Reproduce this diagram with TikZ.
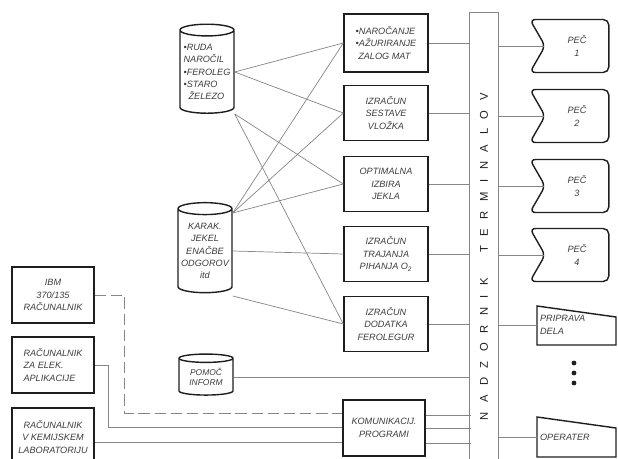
\documentclass[tikz,border=0pt]{standalone}
\usepackage{fontspec}
\setsansfont{Liberation Sans}
\usepackage{tikz}
\usetikzlibrary{shapes.geometric, shapes.symbols, positioning, calc}
\definecolor{inkcol}{HTML}{1E1E1E}
\definecolor{wirecol}{HTML}{858585}
\definecolor{textcol}{HTML}{3C3C3C}

\begin{document}
\begin{tikzpicture}[
    x=0.025cm, y=-0.025cm,
    every node/.style={font=\sffamily\itshape\fontsize{6.5}{8.8}\selectfont, text=textcol},
    prog/.style={rectangle, draw=inkcol, line width=1pt, minimum width=2.1cm,
                 minimum height=1.375cm, align=center, inner sep=1pt},
    comp/.style={prog, minimum width=2.05cm, minimum height=1.4cm},
    store/.style={cylinder, shape border rotate=90, aspect=0.25, draw=inkcol, line width=1pt,
                  minimum width=1.35cm, align=center, inner sep=0pt},
    pec/.style={signal, signal to=nowhere, signal from=west, signal pointer angle=120,
                draw=inkcol, line width=1pt, rounded corners=4pt, minimum width=1.975cm,
                minimum height=1.325cm, align=center, inner sep=1pt},
    inbox/.style={draw=inkcol, line width=1pt},
    strip/.style={rectangle, minimum width=0.7cm, minimum height=11.15cm, inner sep=0pt},
    wire/.style={draw=wirecol, line width=0.5pt},
    dwire/.style={wire, dash pattern=on 8pt off 3.5pt},
]
\useasboundingbox (0,0) rectangle (618,459);

% data stores
\node[store, minimum height=2.225cm, align=left] (ruda) at (207,72)
    {•RUDA\\NAROČIL\\•FEROLEG\\•STARO\\\ \ ŽELEZO};
\node[store, minimum height=2.25cm] (karak) at (205,251)
    {KARAK.\\JEKEL\\ENAČBE\\ODGOROV\\itd};
\node[store, minimum height=1.025cm, font=\sffamily\itshape\fontsize{6}{7}\selectfont] (pomoc) at (206,377)
    {POMOČ\\INFORM};

% programs
\node[prog, minimum height=1.45cm, align=left] (narocanje) at (386,43)
    {•NAROČANJE\\•AŽURIRANJE\\\ ZALOG MAT};
\node[prog] (vlozek) at (386,113) {IZRAČUN\\SESTAVE\\VLOŽKA};
\node[prog] (optimal) at (386,184) {OPTIMALNA\\IZBIRA\\JEKLA};
\node[prog] (pihanje) at (386,254) {IZRAČUN\\TRAJANJA\\PIHANJA O\textsubscript{2}};
\node[prog] (ferolegure) at (386,324) {IZRAČUN\\DODATKA\\FEROLEGUR};
\node[comp] (komunik) at (384,428) {KOMUNIKACIJ.\\PROGRAMI};

% computers
\node[comp] (ibm) at (53,295) {IBM\\370/135\\RAČUNALNIK};
\node[comp, align=left] (elek) at (53,365) {RAČUNALNIK\\ZA ELEK.\\APLIKACIJE};
\node[comp, minimum height=1.45cm] (kemlab) at (53,437) {RAČUNALNIK\\V KEMIJSKEM\\LABORATORIJU};

% terminal supervisor
\node[strip] (nadzor) at (484,236) {};
\draw[wire] (nadzor.south west) |- (nadzor.north east) -- (nadzor.south east);
\node[rotate=90, text=inkcol, font=\sffamily\fontsize{8}{8}\selectfont\addfontfeature{LetterSpace=85}]
    (nadzortxt) at (484,257) {NADZORNIK\ \ TERMINALOV};

% furnaces and terminals
\node[pec] (pec1) at (577,46) {PEČ\\1};
\node[pec] (pec2) at (577,116) {PEČ\\2};
\node[pec] (pec3) at (577,186) {PEČ\\3};
\node[pec] (pec4) at (577,255) {PEČ\\4};
\draw[inbox] (537,306) -- (616,317) -- (616,345) -- (537,345) -- cycle;
\node[anchor=west, align=left, inner sep=2pt] (priprava) at (537,325) {PRIPRAVA\\DELA};
\draw[inbox] (537,417) -- (616,428) -- (616,457) -- (537,457) -- cycle;
\node[anchor=west, inner sep=2pt] (operater) at (537,437) {OPERATER};
\foreach \y in {363,373,383}
    \fill[inkcol] (574,\y) circle (1.7pt);

% stores to programs
\draw[wire] (ruda.east) -- (narocanje.west);
\draw[wire] (ruda.east) -- (vlozek.west);
\draw[wire] ($(ruda.east)+(0,42)$) -- (optimal.west);
\draw[wire] ($(ruda.east)+(0,42)$) -- (ferolegure.west);
\draw[wire] ($(karak.east)+(0,-38)$) -- (narocanje.west);
\draw[wire] ($(karak.east)+(0,-38)$) -- (vlozek.west);
\draw[wire] ($(karak.east)+(0,-38)$) -- (optimal.west);
\draw[wire] (karak.east) -- (pihanje.west);
\draw[wire] ($(karak.east)+(0,45)$) -- (ferolegure.west);
\draw[wire] (pomoc.east) -- (pomoc.east -| nadzor.west);

% programs to supervisor
\draw[wire] (narocanje.east) -- (narocanje.east -| nadzor.west);
\draw[wire] (vlozek.east) -- (vlozek.east -| nadzor.west);
\draw[wire] (optimal.east) -- (optimal.east -| nadzor.west);
\draw[wire] (pihanje.east) -- (pihanje.east -| nadzor.west);
\draw[wire] (ferolegure.east) -- (ferolegure.east -| nadzor.west);
\foreach \dy in {-13,0,15}
    \draw[wire] ($(komunik.east)+(0,\dy)$) -- ++(45,0);

% computers to communication
\draw[dwire] (ibm.east) -- ++(30,0) |- ($(komunik.west)+(0,-15)$);
\draw[wire] (elek.east) -- ++(14,0) |- ($(komunik.west)+(0,-1)$);
\draw[wire] ($(kemlab.east)+(0,5)$) -- ($(komunik.west)+(0,14)$);

% supervisor to terminals
\draw[wire] (nadzor.east |- pec1.west) -- (pec1.west);
\draw[wire] (nadzor.east |- pec2.west) -- (pec2.west);
\draw[wire] (nadzor.east |- pec3.west) -- (pec3.west);
\draw[wire] (nadzor.east |- pec4.west) -- (pec4.west);
\draw[wire] (nadzor.east |- priprava.west) -- (priprava.west);
\draw[wire] (nadzor.east |- operater.west) -- (operater.west);
\end{tikzpicture}
\end{document}
